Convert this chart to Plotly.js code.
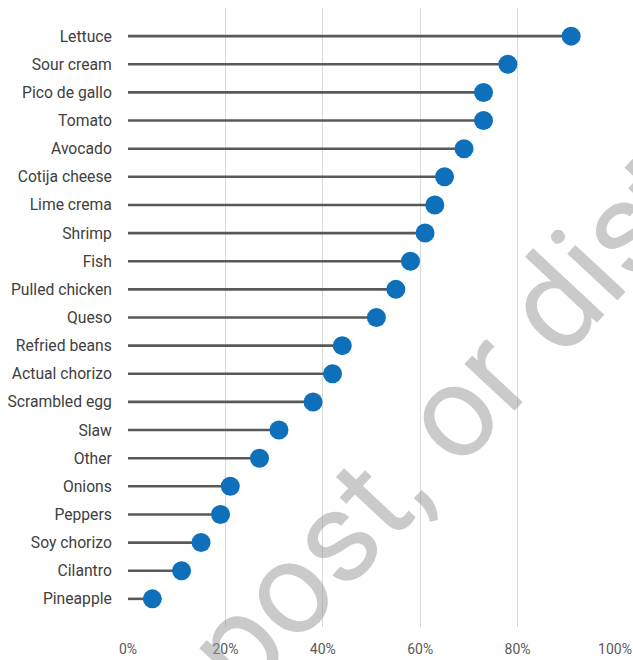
<!DOCTYPE html>
<html>
<head>
<meta charset="utf-8">
<script src="https://cdn.plot.ly/plotly-3.0.1.min.js"></script>
<style>html,body{margin:0;padding:0;background:#fff;}#chart{width:633px;height:660px;}</style>
</head>
<body>
<div id="chart"></div>
<script>
const toppings = ["Lettuce","Sour cream","Pico de gallo","Tomato","Avocado","Cotija cheese","Lime crema","Shrimp","Fish","Pulled chicken","Queso","Refried beans","Actual chorizo","Scrambled egg","Slaw","Other","Onions","Peppers","Soy chorizo","Cilantro","Pineapple"];
const shares = [91,78,73,73,69,65,63,61,58,55,51,44,42,38,31,27,21,19,15,11,5];
const xTickVals = [0,20,40,60,80,100];
const xTickText = ["0%","20%","40%","60%","80%","100%"];
const watermark = "Do not copy, post, or distribute";

const lx = [], ly = [];
toppings.forEach((t, i) => { lx.push(0, shares[i], null); ly.push(t, t, null); });

const traces = [
  {type:"scatter", mode:"lines", x:lx, y:ly, line:{color:"#595959", width:2.6}, hoverinfo:"skip", cliponaxis:false},
  {type:"scatter", mode:"markers", x:shares, y:toppings, marker:{color:"#0E70BA", size:19}, cliponaxis:false}
];

const layout = {
  width:633, height:660,
  margin:{l:128, r:18, t:8, b:33},
  paper_bgcolor:"#fff", plot_bgcolor:"#fff",
  showlegend:false,
  font:{family:"Roboto, sans-serif", size:14, color:"#404040"},
  xaxis:{range:[0,100], tickvals:xTickVals, ticktext:xTickText, showgrid:true, gridcolor:"#d9d9d9", gridwidth:1,
         zeroline:false, showline:false, ticks:"outside", ticklen:9, tickcolor:"rgba(0,0,0,0)",
         tickfont:{family:"Roboto, sans-serif", size:14, color:"#595959"}, fixedrange:true},
  yaxis:{type:"category", categoryorder:"array", categoryarray:toppings, range:[21,-1], showgrid:false, zeroline:false,
         showline:false, ticks:"outside", ticklen:12, tickcolor:"rgba(0,0,0,0)",
         tickfont:{family:"Roboto, sans-serif", size:15.7, color:"#404040"}, fixedrange:true},
  annotations:[{xref:"paper", yref:"paper", x:0.361, y:0.09, text:watermark, showarrow:false, textangle:-47,
    font:{family:"Roboto, sans-serif", size:130, color:"rgba(150,150,150,0.5)"}, xanchor:"center", yanchor:"middle"}]
};

Plotly.newPlot("chart", traces, layout, {displayModeBar:false, staticPlot:true});
</script>
</body>
</html>
